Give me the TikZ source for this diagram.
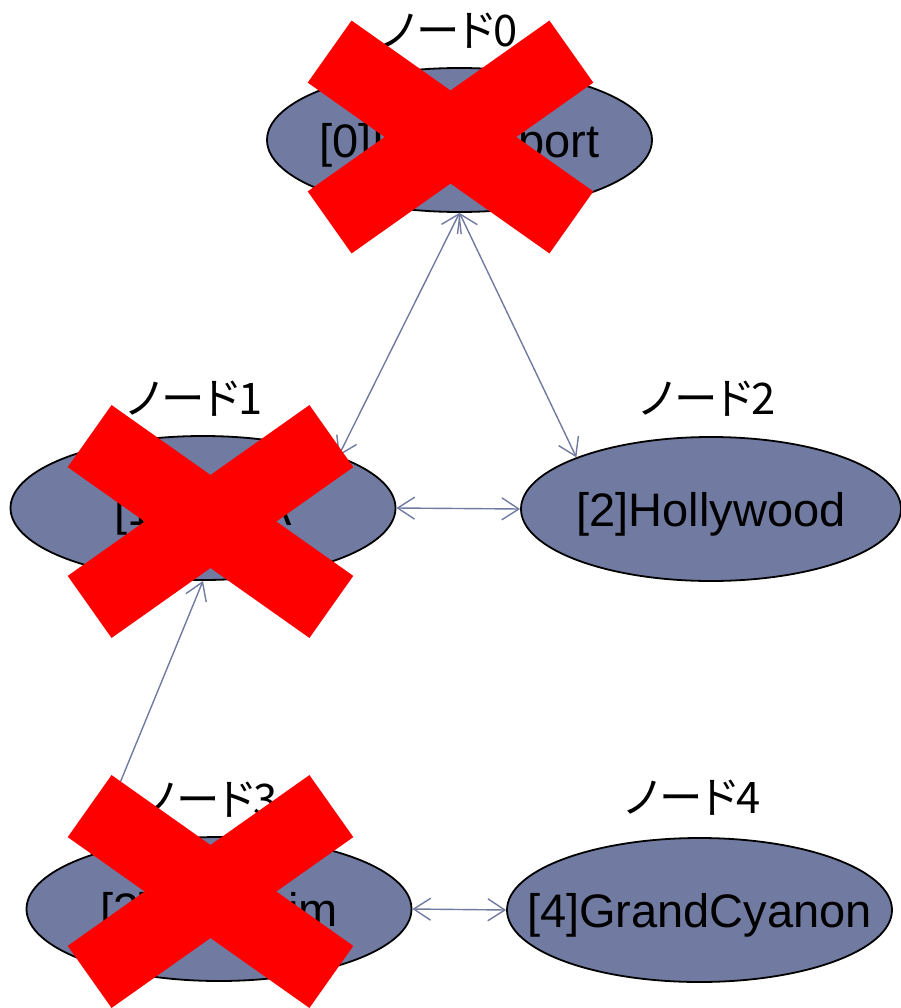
\documentclass[tikz,border=0pt]{standalone}
\usepackage{fontspec}
\setmainfont{Liberation Sans}
\newfontfamily\jpfont[RawFeature=+palt]{Noto Sans CJK JP}
\usetikzlibrary{arrows.meta, shapes.geometric}
\definecolor{slate}{RGB}{113,122,160}
\definecolor{crossred}{RGB}{255,0,0}

\begin{document}
\begin{tikzpicture}[x=1pt, y=-1pt,
        city/.style={ellipse, draw=black, line width=1.8pt, fill=slate,
            minimum width=385pt, minimum height=144pt, inner sep=0pt,
            text depth=0pt, font=\fontsize{47}{56}\selectfont},
        tag/.style={anchor=base, inner sep=0pt, font=\jpfont\fontsize{43.5}{50}\selectfont},
        link/.style={draw=slate, line width=1.4pt,
            {Straight Barb[length=17pt,width=22pt]}-{Straight Barb[length=17pt,width=22pt]}},
        cross/.pic={
            \fill[crossred, rotate=35.25] (-148,-38) rectangle (148,38);
            \fill[crossred, rotate=-35.25] (-148,-38) rectangle (148,38);
        }]
        \useasboundingbox (0,0) rectangle (900,1008);
        % places
        \node[city] (n0) at (459.5,140) {\makebox[0pt]{[0]LAXAirport}};
        \node[city] (n1) at (203,508) {\makebox[0pt]{[1]UCLA}};
        \node[city, minimum width=380pt] (n2) at (711,509) {\makebox[0pt]{[2]Hollywood}};
        \node[city] (n3) at (219,909) {\makebox[0pt]{[3]Anaheim}};
        \node[city] (n4) at (699.5,910) {\makebox[0pt]{[4]GrandCyanon}};
        % titles
        \node[tag] (t0) at (450,47) {ノード0};
        \node[tag] (t1) at (195,414) {ノード1};
        \node[tag] (t2) at (708,414) {ノード2};
        \node[tag] (t3) at (210,815) {ノード3};
        \node[tag] (t4) at (693,813) {ノード4};
        % routes
        \draw[link] (n0.south) -- (n1.21);
        \draw[link] (n0.south) -- (n2.159);
        \draw[link] (n1.east) -- (n2.west);
        \draw[link] (n1.south) -- (n3.157);
        \draw[link] (n3.east) -- (n4.west);
        % crossed out
        \pic at (450.5,137) {cross};
        \pic at (210.5,521.5) {cross};
        \pic at (210.5,891.5) {cross};
    \end{tikzpicture}
\end{document}
